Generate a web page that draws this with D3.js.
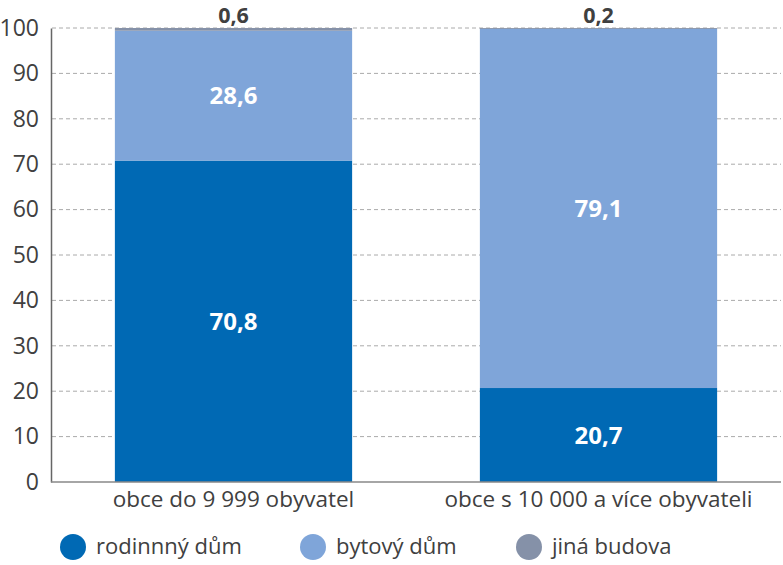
<!DOCTYPE html>
<html>
<head>
<meta charset="utf-8">
<script src="https://cdn.jsdelivr.net/npm/d3@7"></script>
<style>
  body { margin: 0; background: #fff; }
  text { font-family: "Open Sans", sans-serif; }
</style>
</head>
<body>
<div id="chart"></div>
<script>
const categories = ["obce do 9 999 obyvatel", "obce s 10 000 a více obyvateli"];
const seriesNames = ["rodinnný dům", "bytový dům", "jiná budova"];
const rodinny = [70.8, 20.7];
const bytovy = [28.6, 79.1];
const jina = [0.6, 0.2];
const yTicks = [0, 10, 20, 30, 40, 50, 60, 70, 80, 90, 100];

const colors = ["#0069b4", "#7fa5d9", "#8591a8"];

const width = 783, height = 565;
const margin = { top: 28, right: 2, bottom: 83, left: 51 };

const svg = d3.select("#chart").append("svg")
  .attr("width", width).attr("height", height);

const rows = categories.map((c, i) => ({
  cat: c, rodinny: rodinny[i], bytovy: bytovy[i], jina: jina[i]
}));
const keys = ["rodinny", "bytovy", "jina"];
const stack = d3.stack().keys(keys)(rows);

const x = d3.scaleBand().domain(categories)
  .range([margin.left, width - margin.right]).paddingInner(0.35).paddingOuter(0.175);
const y = d3.scaleLinear().domain([0, 100])
  .range([height - margin.bottom, margin.top]);

// gridlines
svg.append("g").selectAll("line").data(yTicks.filter(d => d > 0)).join("line")
  .attr("x1", margin.left + 1).attr("x2", width - margin.right)
  .attr("y1", d => y(d)).attr("y2", d => y(d))
  .attr("stroke", "#aaaaaa").attr("stroke-width", 1)
  .attr("stroke-dasharray", "4,3");

// bars
svg.append("g").selectAll("g").data(stack).join("g")
  .attr("fill", (d, i) => colors[i])
  .selectAll("rect").data(d => d).join("rect")
  .attr("x", d => x(d.data.cat))
  .attr("width", x.bandwidth())
  .attr("y", d => y(d[1]))
  .attr("height", d => y(d[0]) - y(d[1]));

// inner labels
const fmt = v => d3.format(".1f")(v).replace(".", ",");
svg.append("g").selectAll("g").data(stack.slice(0, 2)).join("g")
  .selectAll("text").data(d => d.map(p => ({ p, key: d.key }))).join("text")
  .attr("x", d => x(d.p.data.cat) + x.bandwidth() / 2)
  .attr("y", d => (y(d.p[0]) + y(d.p[1])) / 2)
  .attr("dy", "0.36em")
  .attr("text-anchor", "middle")
  .attr("fill", "#fff").attr("font-weight", "bold").attr("font-size", 24)
  .text(d => fmt(d.p.data[d.key]));

// top labels for small series
svg.append("g").selectAll("text").data(stack[2]).join("text")
  .attr("x", d => x(d.data.cat) + x.bandwidth() / 2)
  .attr("y", d => y(d[1]) - 5)
  .attr("text-anchor", "middle")
  .attr("fill", "#404040").attr("font-weight", "bold").attr("font-size", 21.5)
  .text(d => fmt(d.data.jina));

// y axis
const yAxis = svg.append("g")
  .attr("transform", `translate(${margin.left},0)`)
  .call(d3.axisLeft(y).tickValues(yTicks).tickSize(0).tickPadding(12));
yAxis.select(".domain").attr("stroke", "#666").attr("stroke-width", 1.5);
yAxis.selectAll("text").attr("font-size", 23).attr("fill", "#404040")
  .style("font-family", "'Open Sans', sans-serif");

// x axis
const xAxis = svg.append("g")
  .attr("transform", `translate(0,${y(0)})`)
  .call(d3.axisBottom(x).tickSize(0).tickPadding(9));
xAxis.select(".domain").attr("stroke", "#888").attr("stroke-width", 1.5)
  .attr("d", `M${margin.left},0H${width - margin.right}`);
xAxis.selectAll("text").attr("font-size", 22.5).attr("fill", "#404040")
  .style("font-family", "'Open Sans', sans-serif");

// legend
const legendX = [73, 313, 529];
const legend = svg.append("g").selectAll("g").data(seriesNames).join("g")
  .attr("transform", (d, i) => `translate(${legendX[i]},547)`);
legend.append("circle").attr("r", 13).attr("fill", (d, i) => colors[i]);
legend.append("text").attr("x", 23).attr("dy", "0.33em")
  .attr("font-size", 22).attr("fill", "#404040").text(d => d);
</script>
</body>
</html>
